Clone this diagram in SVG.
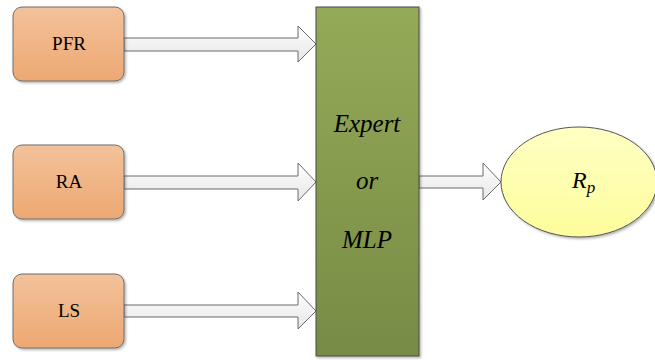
<svg xmlns="http://www.w3.org/2000/svg" width="655" height="360" viewBox="0 0 655 360">
<defs>
<linearGradient id="gOr" x1="0" y1="0" x2="0" y2="1"><stop offset="0" stop-color="#f3c29b"/><stop offset="1" stop-color="#eda872"/></linearGradient>
<linearGradient id="gGr" x1="0" y1="0" x2="0" y2="1"><stop offset="0" stop-color="#95aa58"/><stop offset="1" stop-color="#778b45"/></linearGradient>
<linearGradient id="gYe" x1="0" y1="0" x2="0" y2="1"><stop offset="0" stop-color="#ffffc4"/><stop offset="1" stop-color="#fdfd9c"/></linearGradient>
<linearGradient id="gAr" x1="0" y1="0" x2="0" y2="1"><stop offset="0" stop-color="#ffffff"/><stop offset="1" stop-color="#e6e6e6"/></linearGradient>
<filter id="sh" x="-10%" y="-10%" width="130%" height="130%"><feDropShadow dx="1.5" dy="1.5" stdDeviation="1" flood-color="#000" flood-opacity="0.3"/></filter>
</defs>
<style>
.box{fill:url(#gOr);stroke:#6e6e6e;stroke-width:1;filter:url(#sh)}
.arr{fill:url(#gAr);stroke:#6a6a6a;stroke-width:1}
</style>
<g id="connectors">
<path class="arr" d="M124,38 H298 V26 L316,44 L298,62 V51 H124 Z"/>
<path class="arr" d="M124,176 H298 V163 L316,182 L298,201 V189 H124 Z"/>
<path class="arr" d="M124,305 H298 V292 L316,311 L298,329 V317 H124 Z"/>
<path class="arr" d="M419,176 H483 V163 L501,182 L483,200 V188 H419 Z"/>
</g>
<g id="pfr"><rect class="box" x="13" y="7" width="111" height="74" rx="9"/><text x="69" y="50" font-family="Liberation Serif" font-size="19" text-anchor="middle">PFR</text></g>
<g id="ra"><rect class="box" x="13" y="145" width="111" height="74" rx="9"/><text x="69" y="188" font-family="Liberation Serif" font-size="19" text-anchor="middle">RA</text></g>
<g id="ls"><rect class="box" x="13" y="274" width="111" height="74" rx="9"/><text x="69" y="317" font-family="Liberation Serif" font-size="19" text-anchor="middle">LS</text></g>
<g id="model"><rect x="316" y="7" width="103" height="349" fill="url(#gGr)" stroke="#4a4a4a" stroke-width="1" filter="url(#sh)"/>
<text x="367" y="132" font-family="Liberation Serif" font-style="italic" font-size="25" text-anchor="middle">Expert</text>
<text x="367" y="189" font-family="Liberation Serif" font-style="italic" font-size="25" text-anchor="middle">or</text>
<text x="367" y="248" font-family="Liberation Serif" font-style="italic" font-size="25" text-anchor="middle">MLP</text></g>
<g id="rp"><ellipse cx="579" cy="182" rx="78" ry="55" fill="url(#gYe)" stroke="#555" stroke-width="1" filter="url(#sh)"/>
<text x="572" y="188" font-family="Liberation Serif" font-style="italic" font-size="24">R<tspan font-size="17" dy="5">p</tspan></text></g>
</svg>
